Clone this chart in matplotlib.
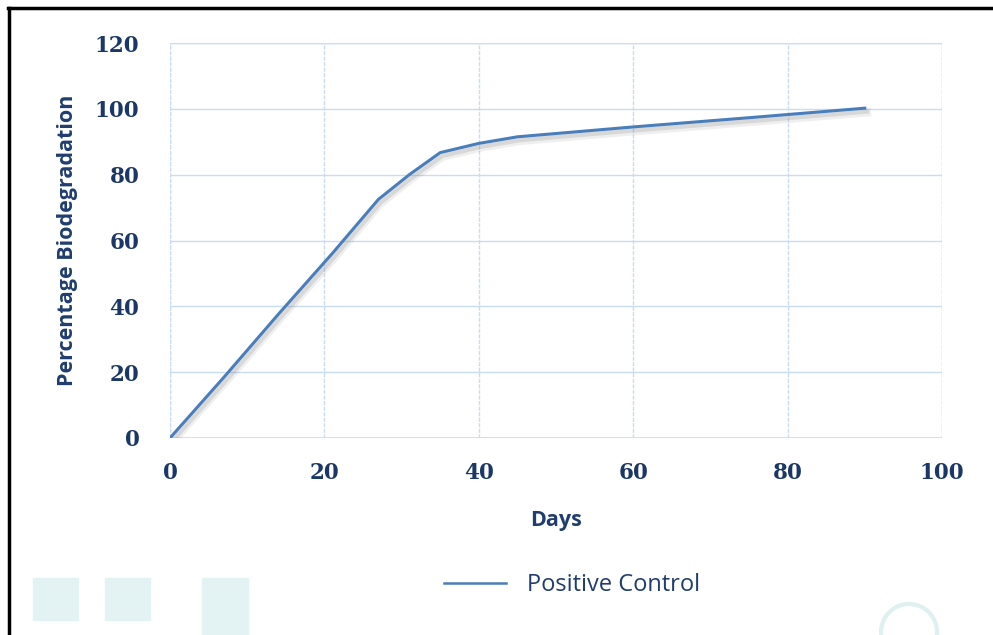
import matplotlib
matplotlib.use("Agg")
import matplotlib.pyplot as plt
import matplotlib.patheffects as pe
from matplotlib.patches import Rectangle, Ellipse
from matplotlib.lines import Line2D

# Positive control biodegradation curve
days = [0, 7, 14, 21, 27, 31, 35, 40, 45, 60, 75, 90]
biodeg = [0, 18.5, 37.5, 56, 72.5, 80, 86.7, 89.5, 91.5, 94.5, 97.3, 100.2]

x_ticks = [0, 20, 40, 60, 80, 100]
y_ticks = [0, 20, 40, 60, 80, 100, 120]

navy = "#1f3d6e"
line_col = "#4a7ebb"
grid_col = "#c9dcf2"

fig = plt.figure(figsize=(9.93, 6.35), dpi=100)

# logo squares bottom left
for (x0, y0, w, h) in [(33, 578, 45, 42), (105, 578, 45, 42), (202, 578, 46, 60)]:
    fig.patches.append(Rectangle((x0 / 993, 1 - (y0 + h) / 635), w / 993, h / 635,
                                 transform=fig.transFigure, color="#e3f3f3", zorder=0))
fig.patches.append(Ellipse((909 / 993, 1 - 632 / 635), 56 / 993, 56 / 635, transform=fig.transFigure,
                           fill=False, ec="#dff0f0", lw=3, zorder=0))

# black frame top and left
fig.lines.append(Line2D([8 / 993, 1], [1 - 8 / 635, 1 - 8 / 635], transform=fig.transFigure,
                        color="black", lw=2.5))
fig.lines.append(Line2D([9 / 993, 9 / 993], [0, 1 - 8 / 635], transform=fig.transFigure,
                        color="black", lw=2.5))

ax = fig.add_axes([170 / 993, 1 - 438 / 635, (942 - 170) / 993, (438 - 43) / 635])
ax.patch.set_alpha(0)
ax.plot(days, biodeg, color=line_col, lw=2.2, solid_joinstyle="round",
        path_effects=[pe.SimpleLineShadow(offset=(1.5, -3), shadow_color="gray", alpha=0.12, linewidth=6),
                      pe.SimpleLineShadow(offset=(1.5, -2.5), shadow_color="gray", alpha=0.2, linewidth=3),
                      pe.Normal()], zorder=3)

ax.set_xlim(0, 100)
ax.set_ylim(0, 120)
ax.set_xticks(x_ticks)
ax.set_yticks(y_ticks)
for s in ax.spines.values():
    s.set_visible(False)
ax.yaxis.grid(True, color=grid_col, lw=1, ls="-")
ax.xaxis.grid(True, color=grid_col, lw=1, ls=(0, (3, 1)))
ax.axhline(0, color=grid_col, lw=1.2, zorder=1)
ax.axhline(120, color=grid_col, lw=1, zorder=1)
ax.axvline(0, color=grid_col, lw=1, ls=(0, (3, 1)), zorder=1)
ax.axvline(100, color=grid_col, lw=1, ls=(0, (3, 1)), zorder=1)
ax.set_axisbelow(True)

ax.tick_params(length=0, labelsize=15.5, labelcolor="#1a3767")
ax.tick_params(axis="y", pad=22)
ax.tick_params(axis="x", pad=17)
for lab in ax.get_xticklabels() + ax.get_yticklabels():
    lab.set_family("DejaVu Serif")
    lab.set_fontweight("semibold")

ax.set_xlabel("Days", fontsize=15.5, fontweight="bold", color=navy, family="Open Sans", labelpad=19)
ax.set_ylabel("Percentage Biodegradation", fontsize=15.5, fontweight="bold", color=navy,
              family="Open Sans", labelpad=12)

fig.legend(handles=[Line2D([], [], color=line_col, lw=1.8)], labels=["Positive Control"],
           loc="center", bbox_to_anchor=(572 / 993, 1 - 585 / 635), frameon=False,
           handlelength=2.6, handletextpad=0.9,
           prop={"family": "Open Sans", "size": 17}, labelcolor=navy)

fig.savefig("out.png", dpi=100)
